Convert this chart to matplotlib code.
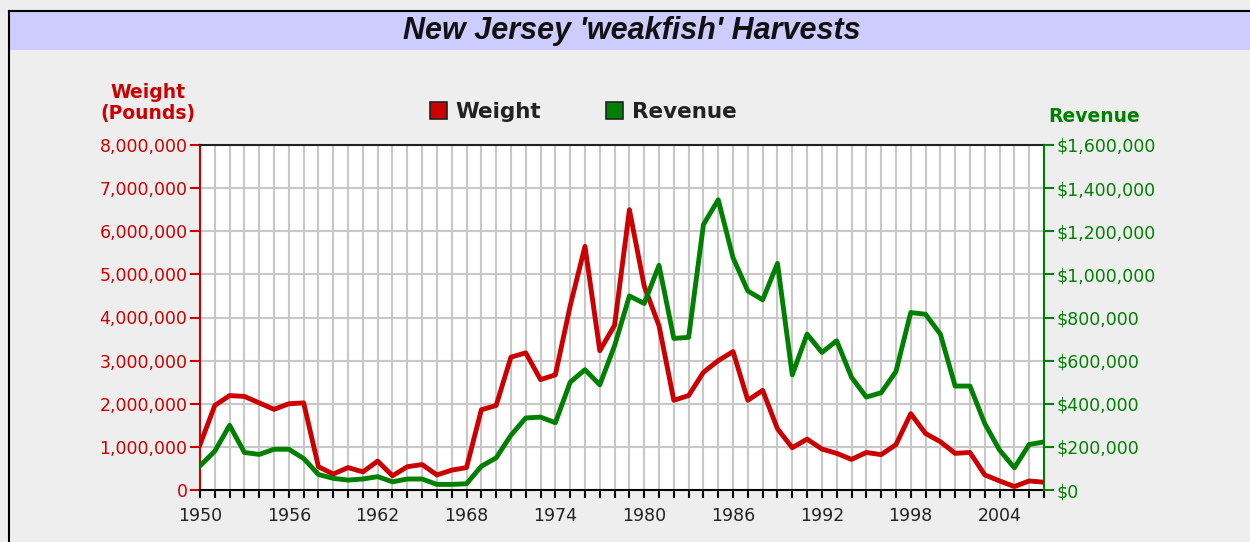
import matplotlib
matplotlib.use("Agg")
import matplotlib.pyplot as plt
from matplotlib.patches import Rectangle, Patch
from matplotlib.ticker import FuncFormatter, MultipleLocator

years = list(range(1950, 2008))
weight_millions = [
    1.05, 1.96, 2.19, 2.17, 2.02, 1.87, 2.00, 2.02, 0.54, 0.37,
    0.52, 0.42, 0.67, 0.33, 0.54, 0.59, 0.35, 0.46, 0.52, 1.86,
    1.96, 3.08, 3.18, 2.56, 2.67, 4.27, 5.65, 3.23, 3.82, 6.50,
    4.73, 3.81, 2.08, 2.19, 2.73, 3.00, 3.21, 2.08, 2.31, 1.42,
    0.98, 1.18, 0.95, 0.85, 0.71, 0.87, 0.82, 1.05, 1.77, 1.31,
    1.12, 0.85, 0.87, 0.35, 0.21, 0.08, 0.21, 0.18,
]
revenue_thousands = [
    112, 180, 300, 174, 165, 189, 189, 146, 72, 54,
    46, 51, 62, 38, 51, 51, 26, 26, 29, 110,
    149, 254, 334, 338, 312, 500, 558, 488, 669, 900,
    865, 1042, 703, 708, 1231, 1346, 1077, 923, 882, 1051,
    534, 723, 638, 692, 523, 431, 451, 549, 823, 815,
    723, 482, 482, 308, 185, 103, 211, 223,
]
weight = [w * 1e6 for w in weight_millions]
revenue = [r * 1e3 for r in revenue_thousands]

title = "New Jersey 'weakfish' Harvests"
RED = "#cc0000"
GREEN = "#008000"
W, H = 1250, 542

fig = plt.figure(figsize=(W / 100, H / 100), dpi=100)
fig.patch.set_facecolor("#eeeeee")

# title bar and frame
fig.patches.append(Rectangle((10 / W, 1 - 50 / H), 1 - 10 / W, 39 / H,
                             transform=fig.transFigure, facecolor="#ccccff",
                             edgecolor="none", zorder=0))
fig.lines.append(plt.Line2D([9 / W, 1], [1 - 11 / H, 1 - 11 / H],
                            transform=fig.transFigure, color="black", lw=1.5))
fig.lines.append(plt.Line2D([9 / W, 9 / W], [0, 1 - 11 / H],
                            transform=fig.transFigure, color="black", lw=1.5))
fig.text(632 / W, 1 - 31 / H, title, ha="center", va="center",
         fontsize=22, fontstyle="italic", fontweight="bold",
         family=["Liberation Sans", "DejaVu Sans"], color="#111111")

left, right, top, bottom = 200, 1044, 145, 490
ax = fig.add_axes([left / W, 1 - bottom / H, (right - left) / W, (bottom - top) / H])
ax.set_facecolor("white")
ax.plot(years, weight, color=RED, lw=3.5, solid_joinstyle="round", zorder=3)
ax.set_xlim(1950, 2007)
ax.set_ylim(0, 8e6)
ax.xaxis.set_major_locator(MultipleLocator(6))
ax.xaxis.set_minor_locator(MultipleLocator(1))
ax.yaxis.set_major_locator(MultipleLocator(1e6))
ax.grid(which="both", axis="x", color="#c8c8c8", lw=1.5)
ax.grid(which="major", axis="y", color="#c8c8c8", lw=1.5)
ax.set_axisbelow(True)
ax.yaxis.set_major_formatter(FuncFormatter(lambda v, p: f"{int(v):,}"))
ax.tick_params(axis="y", colors=RED, labelsize=12.5, length=7, width=1.5, pad=2)
ax.tick_params(axis="x", which="both", colors="black", labelsize=12.5, length=6, width=1.5,
               labelcolor="#222222", pad=6)
for lab in ax.get_xticklabels() + ax.get_yticklabels():
    lab.set_family("DejaVu Sans")
ax.spines["left"].set_color(RED)
ax.spines["left"].set_linewidth(1.5)
ax.spines["bottom"].set_color("black")
ax.spines["bottom"].set_linewidth(1.5)
ax.spines["top"].set_color("#222222")
ax.spines["top"].set_linewidth(1.5)
ax.spines["right"].set_visible(False)

ax2 = ax.twinx()
ax2.plot(years, revenue, color=GREEN, lw=3.5, solid_joinstyle="round", zorder=3)
ax2.set_ylim(0, 1.6e6)
ax2.yaxis.set_major_locator(MultipleLocator(2e5))
ax2.yaxis.set_major_formatter(FuncFormatter(lambda v, p: f"${int(v):,}"))
ax2.tick_params(axis="y", colors=GREEN, labelsize=12.5, length=7, width=1.5, pad=2)
for lab in ax2.get_yticklabels():
    lab.set_family("DejaVu Sans")
ax2.spines["right"].set_color(GREEN)
ax2.spines["right"].set_linewidth(1.5)
ax2.spines["left"].set_visible(False)
ax2.spines["top"].set_visible(False)
ax2.spines["bottom"].set_visible(False)

fig.text(148 / W, 1 - 103 / H, "Weight\n(Pounds)", ha="center", va="center",
         color=RED, fontsize=13.5, fontweight="bold", family="DejaVu Sans",
         linespacing=1.2)
fig.text(1094 / W, 1 - 116 / H, "Revenue", ha="center", va="center",
         color=GREEN, fontsize=13.5, fontweight="bold", family="DejaVu Sans")

handles = [Patch(facecolor=RED, edgecolor="#222222", lw=1.2, label="Weight"),
           Patch(facecolor=GREEN, edgecolor="#222222", lw=1.2, label="Revenue")]
fig.legend(handles=handles, loc="center", bbox_to_anchor=(583 / W, 1 - 112 / H),
           ncol=2, frameon=False, handlelength=0.8, handleheight=0.8,
           handletextpad=0.4, columnspacing=3.0,
           prop={"family": "DejaVu Sans", "weight": "bold", "size": 15.5},
           labelcolor="#222222")

fig.savefig("out.png", dpi=100, facecolor=fig.get_facecolor())
